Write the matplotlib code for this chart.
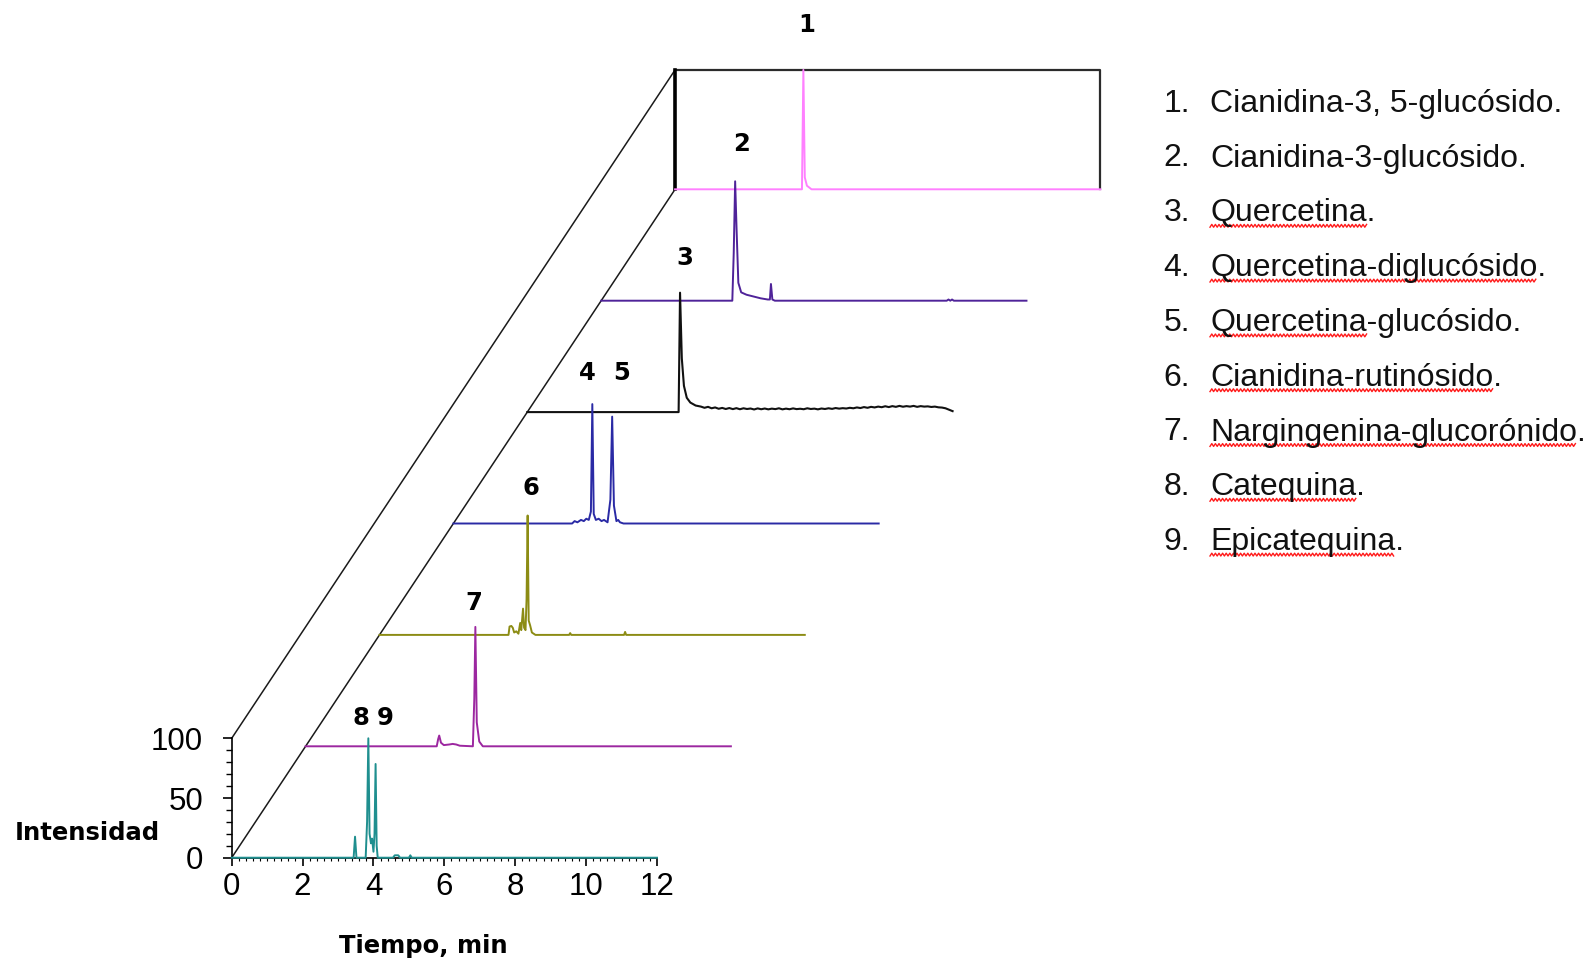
import matplotlib
matplotlib.use("Agg")
import matplotlib.pyplot as plt
from matplotlib.ticker import MultipleLocator
from matplotlib.lines import Line2D
import numpy as np

plt.rcParams['font.family'] = ['Liberation Sans', 'DejaVu Sans']

# cromatogramas: tiempo (min) vs intensidad relativa (%), del frente hacia el fondo
t_cat = [0, 3.44, 3.48, 3.52, 3.78, 3.82, 3.855, 3.89, 3.93, 3.96, 4.0, 4.03, 4.06, 4.09, 4.12,
         4.55, 4.6, 4.7, 4.75, 5.0, 5.04, 5.08, 12]
i_cat = [0, 0, 17.6, 0, 0, 30, 100, 20, 12, 16, 5, 20, 78.5, 10, 0,
         0, 2, 2, 0, 0, 2, 0, 0]

t_nar = [0, 3.7, 3.74, 3.77, 3.82, 3.9, 4.05, 4.15, 4.25, 4.35, 4.72, 4.76, 4.79, 4.83, 4.9, 5.0, 12]
i_nar = [0, 0, 6, 9, 3, 1, 1.5, 2, 1.5, 0.5, 0, 40, 100, 20, 4, 0, 0]

t_rut = [0, 3.64, 3.67, 3.72, 3.76, 3.80, 3.86, 3.92, 3.97, 4.0, 4.05, 4.08, 4.12, 4.15, 4.18,
         4.21, 4.25, 4.3, 4.4, 5.35, 5.38, 5.41, 6.9, 6.93, 6.96, 12]
i_rut = [0, 0, 7, 7.5, 6, 2, 3, 1, 10, 4, 22, 6, 4, 30, 100,
         12, 8, 2, 0, 0, 1.5, 0, 0, 2.5, 0, 0]

t_qgl = [0, 3.35, 3.42, 3.5, 3.6, 3.68, 3.75, 3.82, 3.88, 3.92, 3.96, 4.02, 4.1, 4.18, 4.25,
         4.35, 4.43, 4.48, 4.53, 4.6, 4.65, 4.7, 4.8, 12]
i_qgl = [0, 0, 2, 1, 3, 2, 4, 3, 10, 100, 8, 3, 4, 2, 3,
         1, 20, 89.5, 15, 2, 3, 1, 0, 0]

t_que = [0, 4.27, 4.31, 4.36, 4.42, 4.5, 4.6, 4.75, 4.9, 5.0, 5.1, 5.2, 5.3, 5.4, 5.5, 5.6, 5.7,
         5.8, 5.9, 6.0, 6.1, 6.2, 6.3, 6.4, 6.5, 6.6, 6.7, 6.8, 6.9, 7.0, 7.1, 7.2, 7.3, 7.4,
         7.5, 7.6, 7.7, 7.8, 7.9, 8.0, 8.1, 8.2, 8.3, 8.4, 8.5, 8.6, 8.7, 8.8, 8.9, 9.0, 9.1,
         9.2, 9.3, 9.4, 9.5, 9.6, 9.7, 9.8, 9.9, 10.0, 10.1, 10.2, 10.3, 10.4, 10.5, 10.6, 10.7,
         10.8, 10.9, 11.0, 11.1, 11.2, 11.3, 11.4, 11.5, 11.6, 11.7, 11.8, 11.9, 12.0]
i_que = [0, 0, 100, 45, 22, 12, 8, 5.5, 4.6, 3.6, 4.4, 3.2, 3.9, 2.8, 3.5, 2.6, 3.4,
         2.5, 3.3, 2.4, 3.2, 2.6, 3.0, 2.2, 3.1, 2.4, 3.0, 2.3, 2.9, 2.5, 3.2, 2.3, 2.9, 2.4,
         3.1, 2.5, 2.8, 2.4, 3.2, 2.6, 2.9, 2.3, 3.0, 2.6, 3.2, 2.7, 3.4, 2.9, 3.3, 3.0, 3.6,
         3.2, 3.9, 3.4, 4.2, 3.6, 4.4, 3.9, 4.6, 4.1, 4.9, 4.2, 5.0, 4.4, 5.2, 4.5, 5.0,
         4.6, 5.2, 4.4, 5.0, 4.6, 4.8, 4.3, 4.6, 4.0, 3.8, 3.2, 2.0, 0.8]

t_c3g = [0, 3.70, 3.74, 3.78, 3.82, 3.87, 3.95, 4.1, 4.3, 4.5, 4.7, 4.76, 4.79, 4.83, 4.9,
         9.75, 9.8, 9.85, 9.9, 9.95, 12]
i_c3g = [0, 0, 40, 100, 60, 15, 7, 5, 3.5, 2, 1, 1, 14, 1, 0,
         0, 1, 0, 1, 0, 0]

t_c35 = [0, 3.58, 3.62, 3.66, 3.72, 3.85, 12]
i_c35 = [0, 0, 100, 10, 3, 0, 0]

trazas = [(t_cat, i_cat), (t_nar, i_nar), (t_rut, i_rut), (t_qgl, i_qgl),
          (t_que, i_que), (t_c3g, i_c3g), (t_c35, i_c35)]
colores = ['#1f8f8f', '#9c27a0', '#8c8c14', '#2a2aa5', '#111111', '#4f2399', '#ff80ff']

picos = ['1', '2', '3', '4', '5', '6', '7', '8', '9']
pos_picos = [(16.21, 697.4), (14.40, 597.7), (12.79, 502.2), (10.03, 405.9), (10.99, 405.9),
             (8.45, 309.6), (6.84, 213.3), (3.65, 117.0), (4.33, 117.0)]

compuestos = ['Cianidina-3, 5-glucósido.', 'Cianidina-3-glucósido.', 'Quercetina.',
              'Quercetina-diglucósido.', 'Quercetina-glucósido.', 'Cianidina-rutinósido.',
              'Nargingenina-glucorónido.', 'Catequina.', 'Epicatequina.']
subrayado = [None, None, 'Quercetina', 'Quercetina-diglucósido', 'Quercetina',
             'Cianidina-rutinósido', 'Nargingenina-glucorónido', 'Catequina', 'Epicatequina']

W, H = 1587, 963
fig = plt.figure(figsize=(W / 100, H / 100), dpi=100)
ax = fig.add_axes([231.7 / W, (H - 857.7) / H, 425.3 / W, 119.4 / H])
ax.set_xlim(0, 12)
ax.set_ylim(0, 100)

# desplazamiento en perspectiva entre trazas
dx, dy = 2.085, 93.3
n = len(trazas) - 1

# marco 3D
ax.plot([0, n * dx], [0, n * dy], color='#1a1a1a', lw=1.1, clip_on=False, zorder=1)
ax.plot([0, n * dx], [100, n * dy + 100], color='#1a1a1a', lw=1.1, clip_on=False, zorder=1)
ax.plot([n * dx, n * dx + 12, n * dx + 12], [n * dy + 100, n * dy + 100, n * dy],
        color='#2b2b2b', lw=1.6, clip_on=False, zorder=1)
ax.plot([n * dx, n * dx], [n * dy, n * dy + 100], color='black', lw=2.6, clip_on=False, zorder=2)

for k in range(n, -1, -1):
    t, y = trazas[k]
    ax.plot(np.array(t) + k * dx, np.array(y) + k * dy, color=colores[k],
            lw=1.4 if k != 4 else 1.5, clip_on=False, zorder=10 - k)

for s, (x, y) in zip(picos, pos_picos):
    ax.text(x, y, s, ha='center', va='center', fontsize=17.5, fontweight='bold',
            family='DejaVu Sans', clip_on=False)

for side in ['top', 'right']:
    ax.spines[side].set_visible(False)
ax.spines['left'].set_bounds(0, 100)
ax.spines['bottom'].set_bounds(0, 12)
ax.spines['left'].set_linewidth(1.2)
ax.spines['bottom'].set_linewidth(1.2)
ax.patch.set_visible(False)

ax.set_xticks(range(0, 13, 2))
ax.set_yticks([0, 50, 100])
ax.xaxis.set_minor_locator(MultipleLocator(0.2))
ax.yaxis.set_minor_locator(MultipleLocator(10))
ax.tick_params(axis='x', which='major', direction='out', length=6, width=1.2, labelsize=22.5, pad=4)
ax.tick_params(axis='x', which='minor', direction='out', length=2.5, width=0.8)
ax.tick_params(axis='y', which='major', direction='out', length=6.5, width=1.2, labelsize=22.5, pad=14)
ax.tick_params(axis='y', which='minor', direction='out', length=4.5, width=1.0)

fig.text(15 / W, 1 - 833 / H, 'Intensidad', ha='left', va='center', fontsize=17.5,
         fontweight='bold', family='DejaVu Sans')
fig.text(423 / W, 1 - 946 / H, 'Tiempo, min', ha='center', va='center', fontsize=17.5,
         fontweight='bold', family='DejaVu Sans')

# lista de compuestos
r = fig.canvas.get_renderer()
for i, nombre in enumerate(compuestos):
    yb = H - (111.7 + 54.8 * i)
    fig.text(1163.5 / W, yb / H, f'{i + 1}.', fontsize=23, va='baseline', color='#111111')
    fig.text(1210 / W, yb / H, nombre, fontsize=23, va='baseline', color='#111111')
    if subrayado[i]:
        tmp = fig.text(1210 / W, yb / H, subrayado[i], fontsize=23, va='baseline')
        bb = tmp.get_window_extent(r)
        tmp.remove()
        xs = np.arange(bb.x0, bb.x1, 1.8)
        ys = yb - 4.5 + np.where(np.arange(len(xs)) % 2, 1.4, -1.4)
        fig.add_artist(Line2D(xs / W, ys / H, transform=fig.transFigure,
                              color='#ff1a1a', lw=1.0))

fig.savefig('out.png', dpi=100)
